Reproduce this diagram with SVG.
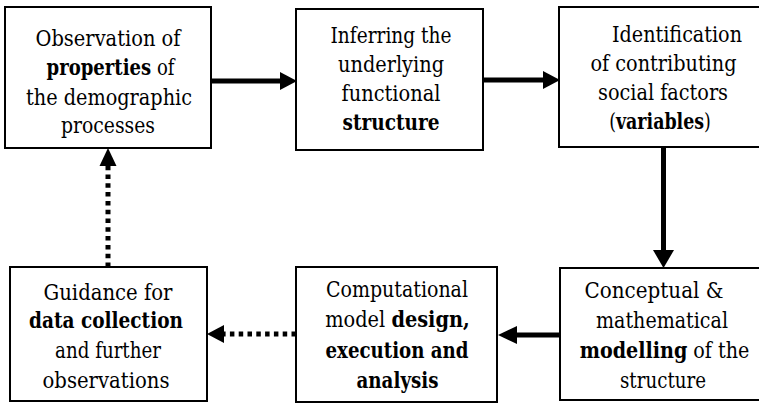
<svg xmlns="http://www.w3.org/2000/svg" width="759" height="403" viewBox="0 0 759 403">
<defs>
<style>
.box{fill:#fff;stroke:#000;stroke-width:2}
text{font-family:'DejaVu Serif',serif;font-size:21.5px;fill:#000;text-anchor:middle}
.b{font-weight:bold}
.solid{stroke:#000;stroke-width:5;fill:none}
.dot{stroke:#000;stroke-width:5;fill:none;stroke-dasharray:4.5 4.3}
.head{fill:#000}
</style>
</defs>
<rect x="0" y="0" width="759" height="403" fill="#fff"/>
<g id="connectors">
<line class="solid" x1="211" y1="81" x2="282" y2="81"/>
<polygon class="head" points="297,81 280,72 280,90"/>
<line class="solid" x1="483" y1="80" x2="545" y2="80"/>
<polygon class="head" points="560,80 543,71 543,89"/>
<line class="solid" x1="663.5" y1="148" x2="663.5" y2="252"/>
<polygon class="head" points="663.5,268 653,250 674,250"/>
<line class="solid" x1="560" y1="335" x2="515" y2="335"/>
<polygon class="head" points="498,335 517,326 517,344"/>
<line class="dot" x1="296" y1="334" x2="222" y2="334"/>
<polygon class="head" points="207,334 224,325 224,343"/>
<line class="dot" x1="108" y1="267" x2="108" y2="163"/>
<polygon class="head" points="108,148 99.5,166 116.5,166"/>
</g>
<g id="n1">
<rect class="box" x="5" y="7" width="206" height="141"/>
<text x="108" y="46" textLength="145" lengthAdjust="spacingAndGlyphs">Observation of</text>
<text transform="translate(110.5,75) scale(0.84,1)"><tspan class="b">properties</tspan> of</text>
<text x="109" y="105" textLength="166" lengthAdjust="spacingAndGlyphs">the demographic</text>
<text x="108" y="133" textLength="94" lengthAdjust="spacingAndGlyphs">processes</text>
</g>
<g id="n2">
<rect class="box" x="296" y="9" width="187" height="141"/>
<text x="391" y="43" textLength="121" lengthAdjust="spacingAndGlyphs">Inferring the</text>
<text x="391" y="72" textLength="106" lengthAdjust="spacingAndGlyphs">underlying</text>
<text x="391" y="101" textLength="99" lengthAdjust="spacingAndGlyphs">functional</text>
<text x="391" y="130" class="b" textLength="97" lengthAdjust="spacingAndGlyphs">structure</text>
</g>
<g id="n3">
<rect class="box" x="559" y="7" width="210" height="140"/>
<text x="677" y="42" textLength="130" lengthAdjust="spacingAndGlyphs">Identification</text>
<text x="663.5" y="71" textLength="146" lengthAdjust="spacingAndGlyphs">of contributing</text>
<text x="663" y="100" textLength="130" lengthAdjust="spacingAndGlyphs">social factors</text>
<text transform="translate(660,129) scale(0.81,1)">(<tspan class="b">variables</tspan>)</text>
</g>
<g id="n4">
<rect class="box" x="560" y="268" width="210" height="132"/>
<text x="654" y="298" textLength="139" lengthAdjust="spacingAndGlyphs">Conceptual &amp;</text>
<text x="662" y="328" textLength="132" lengthAdjust="spacingAndGlyphs">mathematical</text>
<text transform="translate(664.5,358) scale(0.89,1)"><tspan class="b">modelling</tspan> of the</text>
<text x="663" y="388" textLength="86" lengthAdjust="spacingAndGlyphs">structure</text>
</g>
<g id="n5">
<rect class="box" x="296" y="267" width="201" height="135"/>
<text x="397" y="297" textLength="142" lengthAdjust="spacingAndGlyphs">Computational</text>
<text transform="translate(397.5,327) scale(0.9,1)">model <tspan class="b">design,</tspan></text>
<text x="397" y="358" class="b" textLength="143" lengthAdjust="spacingAndGlyphs">execution and</text>
<text x="397.5" y="388" class="b" textLength="82" lengthAdjust="spacingAndGlyphs">analysis</text>
</g>
<g id="n6">
<rect class="box" x="10" y="267" width="197" height="134"/>
<text x="108" y="300" textLength="129" lengthAdjust="spacingAndGlyphs">Guidance for</text>
<text x="106" y="328" class="b" textLength="154" lengthAdjust="spacingAndGlyphs">data collection</text>
<text x="108" y="358" textLength="106" lengthAdjust="spacingAndGlyphs">and further</text>
<text x="106" y="388" textLength="127" lengthAdjust="spacingAndGlyphs">observations</text>
</g>
</svg>
